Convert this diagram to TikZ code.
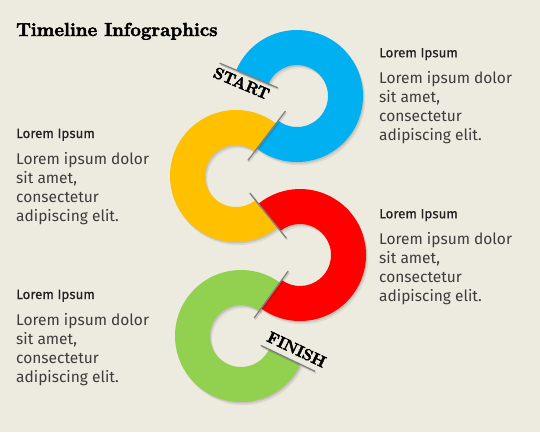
\documentclass[tikz,border=0pt]{standalone}
\usepackage{fontspec}
\setsansfont{Fira Sans}
\newfontfamily\fatface{Latin Modern Roman}[BoldFeatures={FakeBold=2.6}]
\newfontfamily\headfont{Fira Sans}[FakeBold=0.5]
\usetikzlibrary{calc}
\definecolor{bg}{HTML}{EDEAE0}
\definecolor{rblue}{HTML}{00B0F0}
\definecolor{ryellow}{HTML}{FFC000}
\definecolor{rred}{HTML}{FF0000}
\definecolor{rgreen}{HTML}{92D050}
\definecolor{headc}{HTML}{222222}
\definecolor{bodyc}{HTML}{3C3C3C}
\definecolor{cutc}{HTML}{7F7F7F}
\newcommand\ringsec[4]{\path[#4] ($(#1)+(#2:66)$) arc[start angle=#2,end angle=#3,radius=66] -- ($(#1)+(#3:31)$) arc[start angle=#3,end angle=#2,radius=31] -- cycle;}
\tikzset{
  shadA/.style={fill=black,opacity=.10},
  shadB/.style={fill=black,opacity=.07},
  cut/.style={draw=cutc,line width=1.3pt},
  cutshadow/.style={draw=black,opacity=.12,line width=1.5pt},
  head/.style={anchor=base west,inner sep=0pt,text=headc,font=\headfont\fontsize{13.4}{15}\selectfont},
  body/.style={anchor=base west,inner sep=0pt,align=left,text=bodyc,font=\sffamily\fontsize{15.5}{19}\selectfont},
  tag/.style={inner sep=4pt,font=\fatface\bfseries\fontsize{16}{17}\selectfont}
}
\begin{document}
\begin{tikzpicture}[x=1pt,y=1pt]
\fill[bg] (0,0) rectangle (540,-432);
\useasboundingbox (0,0) rectangle (540,-432);
% centres
\coordinate (B) at (297,-96);
\coordinate (Y) at (236,-176);
\coordinate (R) at (300,-255);
\coordinate (G) at (241,-336);
\foreach \c in {B,Y,R,G}{
  \coordinate (\c s1) at ($(\c)+(1,-1.5)$);
  \coordinate (\c s2) at ($(\c)+(2.2,-3.2)$);
}
% shadows
\ringsec{Bs2}{232.7}{517}{shadB}
\ringsec{Ys2}{52.7}{309}{shadB}
\ringsec{Rs2}{233.9}{489}{shadB}
\ringsec{Gs2}{53.9}{334.5}{shadB}
\ringsec{Bs1}{232.7}{517}{shadA}
\ringsec{Ys1}{52.7}{309}{shadA}
\ringsec{Rs1}{233.9}{489}{shadA}
\ringsec{Gs1}{53.9}{334.5}{shadA}
% rings
\ringsec{Y}{52.7}{309}{fill=ryellow}
\ringsec{G}{53.9}{334.5}{fill=rgreen}
\ringsec{B}{232.7}{517}{fill=rblue}
\ringsec{R}{233.9}{489}{fill=rred}
% cut lines
\draw[cutshadow] ($(B)+(157:21)+(1,-1.5)$) -- ($(B)+(157:84)+(1,-1.5)$);
\draw[cutshadow] ($(B)!19pt!(Y)+(1,-1.5)$) -- ($(B)!81pt!(Y)+(1,-1.5)$);
\draw[cutshadow] ($(Y)!22pt!(R)+(1,-1.5)$) -- ($(Y)!80pt!(R)+(1,-1.5)$);
\draw[cutshadow] ($(R)!20pt!(G)+(1,-1.5)$) -- ($(R)!78pt!(G)+(1,-1.5)$);
\draw[cutshadow] ($(G)+(334.5:22)+(1,-1.5)$) -- ($(G)+(334.5:82)+(1,-1.5)$);
\draw[cut] ($(B)+(157:21)$) coordinate (s0) -- ($(B)+(157:84)$) coordinate (s1);
\draw[cut] ($(B)!19pt!(Y)$) -- ($(B)!81pt!(Y)$);
\draw[cut] ($(Y)!22pt!(R)$) -- ($(Y)!80pt!(R)$);
\draw[cut] ($(R)!20pt!(G)$) -- ($(R)!78pt!(G)$);
\draw[cut] ($(G)+(334.5:22)$) coordinate (f0) -- ($(G)+(334.5:82)$) coordinate (f1);
% tags
\node[tag,rotate=-23,anchor=north] (start) at ($(B)+(157:56)$) {START};
\node[tag,rotate=-25.5,anchor=south,inner sep=6pt] (finish) at ($(G)+(334.5:56)$) {FINISH};
% title
\node[anchor=base west,inner sep=0pt,font=\fatface\bfseries\fontsize{18.8}{20}\selectfont] (title) at (16,-36) {Timeline Infographics};
% text blocks
\node[head] (h1) at (379,-57.3) {Lorem Ipsum};
\node[body] (b1) at (379,-140) {Lorem ipsum dolor\\sit amet,\\consectetur\\adipiscing elit.};
\node[head] (h2) at (16,-138) {Lorem Ipsum};
\node[body] (b2) at (16,-221) {Lorem ipsum dolor\\sit amet,\\consectetur\\adipiscing elit.};
\node[head] (h3) at (379,-218.3) {Lorem Ipsum};
\node[body] (b3) at (379,-301) {Lorem ipsum dolor\\sit amet,\\consectetur\\adipiscing elit.};
\node[head] (h4) at (16,-299) {Lorem Ipsum};
\node[body] (b4) at (16,-382) {Lorem ipsum dolor\\sit amet,\\consectetur\\adipiscing elit.};
\end{tikzpicture}
\end{document}
